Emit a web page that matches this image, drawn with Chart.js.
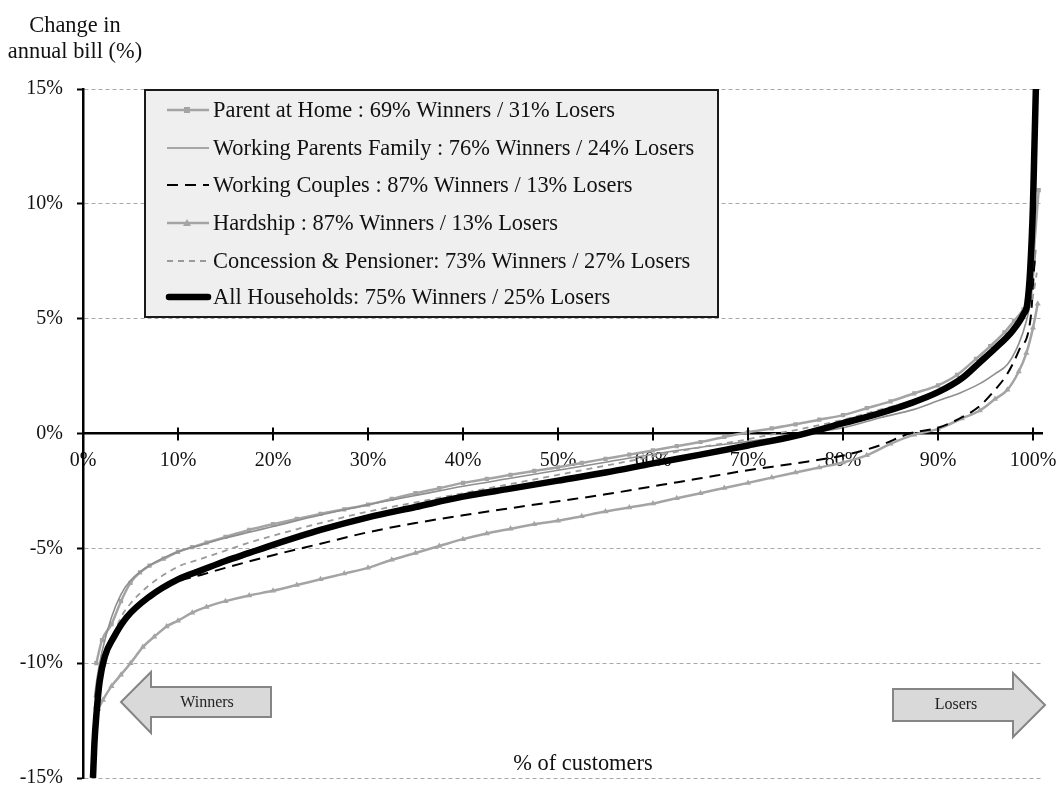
<!DOCTYPE html>
<html>
<head>
<meta charset="utf-8">
<script src="https://cdn.jsdelivr.net/npm/chart.js@4.4.1/dist/chart.umd.min.js"></script>
<style>
  html, body { margin: 0; padding: 0; background: #ffffff; }
  #wrap { width: 1064px; height: 786px; }
</style>
</head>
<body>
<div id="wrap"><canvas id="c" width="1064" height="786"></canvas></div>
<script>
// ---------------- DATA ----------------
const seriesNames = [
  'Parent at Home : 69% Winners / 31% Losers',
  'Working Parents Family : 76% Winners / 24% Losers',
  'Working Couples : 87% Winners / 13% Losers',
  'Hardship : 87% Winners / 13% Losers',
  'Concession & Pensioner: 73% Winners / 27% Losers',
  'All Households: 75% Winners / 25% Losers'
];

const parentX = [1.4, 2, 3, 4, 5, 6, 7, 8.5, 10, 11.5, 13, 15, 17.5, 20, 22.5, 25, 27.5, 30, 32.5, 35, 37.5, 40, 42.5, 45, 47.5, 50, 52.5, 55, 57.5, 60, 62.5, 65, 67.5, 70, 72.5, 75, 77.5, 80, 82.5, 85, 87.5, 90, 92, 94, 95.5, 97, 98, 99, 99.6, 100.6];
const parentY = [-10.0, -9.0, -8.3, -7.3, -6.5, -6.05, -5.75, -5.45, -5.15, -4.95, -4.75, -4.5, -4.2, -3.95, -3.72, -3.5, -3.3, -3.1, -2.85, -2.6, -2.38, -2.15, -1.98, -1.8, -1.63, -1.47, -1.28, -1.1, -0.92, -0.74, -0.55, -0.37, -0.15, 0.05, 0.22, 0.4, 0.6, 0.8, 1.1, 1.4, 1.75, 2.1, 2.55, 3.25, 3.8, 4.4, 4.9, 5.4, 5.9, 10.6];

const workParentsX = [1.2, 1.5, 2, 3, 4, 5, 7, 10, 12.5, 15, 17.5, 20, 25, 30, 35, 40, 45, 50, 55, 60, 65, 70, 76, 80, 84, 87.5, 90, 92.5, 94.4, 96, 97.3, 98.5, 99.3, 99.8, 100.3];
const workParentsY = [-11.5, -10.6, -9.5, -8.0, -7.0, -6.4, -5.75, -5.15, -4.85, -4.55, -4.3, -4.05, -3.55, -3.1, -2.7, -2.3, -1.95, -1.6, -1.25, -0.9, -0.6, -0.35, 0.0, 0.25, 0.7, 1.05, 1.43, 1.8, 2.17, 2.6, 3.0, 3.9, 4.9, 5.9, 8.0];

const couplesX = [1.2, 1.5, 2, 3, 4, 5, 7, 10, 12.5, 15, 20, 25, 30, 35, 40, 45, 50, 55, 60, 65, 70, 75, 80, 84, 87, 90, 92.5, 94.4, 96, 97.3, 98.5, 99.8, 100.1, 100.2];
const couplesY = [-13.5, -11.7, -10.3, -9.1, -8.4, -7.85, -7.1, -6.45, -6.15, -5.85, -5.3, -4.8, -4.3, -3.9, -3.56, -3.25, -2.95, -2.65, -2.3, -1.95, -1.6, -1.3, -0.96, -0.5, 0.0, 0.25, 0.7, 1.2, 1.9, 2.6, 3.6, 5.2, 7.1, 7.6];

const hardshipX = [1.6, 2.1, 3, 4, 5, 6.3, 7.5, 8.8, 10, 11.5, 13, 15, 17.5, 20, 22.5, 25, 27.5, 30, 32.5, 35, 37.5, 40, 42.5, 45, 47.5, 50, 52.5, 55, 57.5, 60, 62.5, 65, 67.5, 70, 72.5, 75, 77.5, 80, 82.5, 85, 87.5, 90, 92.5, 94.4, 96, 97.3, 98.5, 99.3, 100, 100.5];
const hardshipY = [-12.0, -11.6, -11.0, -10.5, -10.0, -9.3, -8.85, -8.4, -8.15, -7.8, -7.55, -7.3, -7.05, -6.85, -6.6, -6.35, -6.1, -5.85, -5.5, -5.2, -4.9, -4.6, -4.35, -4.15, -3.95, -3.8, -3.6, -3.4, -3.22, -3.05, -2.82, -2.6, -2.37, -2.15, -1.92, -1.7, -1.48, -1.26, -0.95, -0.45, -0.05, 0.2, 0.65, 1.0, 1.5, 1.9, 2.7, 3.5, 4.6, 5.65];

const concessionX = [1.2, 2, 3, 4, 5, 7, 10, 12.5, 15, 17.5, 20, 25, 30, 35, 40, 45, 50, 55, 60, 65, 70, 73, 75, 80, 84, 87.5, 90, 92.5, 94.4, 96, 97.5, 98.5, 99.3, 100, 100.4];
const concessionY = [-12.0, -10.0, -9.0, -8.0, -7.4, -6.6, -5.8, -5.45, -5.1, -4.75, -4.45, -3.9, -3.4, -3.0, -2.6, -2.2, -1.8, -1.4, -1.0, -0.6, -0.25, 0.0, 0.15, 0.6, 1.05, 1.45, 1.85, 2.4, 3.0, 3.6, 4.2, 4.7, 5.3, 6.0, 7.0];

const allX = [1.05, 1.2, 1.4, 1.75, 2.3, 3.2, 4.6, 7, 10, 12.5, 15, 17.5, 20, 25, 30, 35, 40, 45, 50, 55, 60, 65, 70, 75, 80, 84, 87, 90, 92.5, 94.4, 96, 97.9, 99, 99.4, 99.7, 100, 100.15, 100.3];
const allY = [-15.0, -13.5, -12.3, -10.8, -9.7, -8.9, -8.0, -7.1, -6.35, -5.95, -5.55, -5.2, -4.85, -4.2, -3.65, -3.2, -2.75, -2.4, -2.05, -1.7, -1.3, -0.92, -0.52, -0.1, 0.45, 0.9, 1.3, 1.8, 2.4, 3.1, 3.7, 4.5, 5.2, 5.65, 7.1, 10.0, 12.5, 15.0];

const xTickValues = [0, 10, 20, 30, 40, 50, 60, 70, 80, 90, 100];
const yTickValues = [-15, -10, -5, 0, 5, 10, 15];
const yTitleLines = ['Change in', 'annual bill (%)'];
const xTitle = '% of customers';
const arrowLabels = ['Winners', 'Losers'];

// ---------------- CHART ----------------
const FONT = "'Liberation Serif','Times New Roman',serif";
const pts = (xs, ys) => xs.map((x, i) => ({ x: x, y: ys[i] }));

const datasets = [
  { label: seriesNames[0], data: pts(parentX, parentY), borderColor: '#a4a4a4', borderWidth: 2.5,
    pointStyle: 'rect', pointRadius: 3, pointBackgroundColor: '#a4a4a4', pointBorderWidth: 0, order: 5 },
  { label: seriesNames[1], data: pts(workParentsX, workParentsY), borderColor: '#8e8e8e', borderWidth: 1.6,
    pointRadius: 0, order: 3 },
  { label: seriesNames[2], data: pts(couplesX, couplesY), borderColor: '#000000', borderWidth: 2,
    borderDash: [11, 7], pointRadius: 0, order: 2 },
  { label: seriesNames[3], data: pts(hardshipX, hardshipY), borderColor: '#a4a4a4', borderWidth: 2.5,
    pointStyle: 'triangle', pointRadius: 3.5, pointBackgroundColor: '#a4a4a4', pointBorderWidth: 0, order: 4 },
  { label: seriesNames[4], data: pts(concessionX, concessionY), borderColor: '#9a9a9a', borderWidth: 1.8,
    borderDash: [6, 5], pointRadius: 0, order: 1 },
  { label: seriesNames[5], data: pts(allX, allY), borderColor: '#000000', borderWidth: 6.5,
    pointRadius: 0, order: 0 }
];
datasets.forEach(d => { d.fill = false; d.cubicInterpolationMode = 'monotone'; d.pointHoverRadius = 0; });

const decorPlugin = {
  id: 'decor',
  afterDatasetsDraw(chart) {
    const ctx = chart.ctx;
    const xs = chart.scales.x, ys = chart.scales.y;
    const y0 = ys.getPixelForValue(0);
    ctx.save();
    // crossing tick marks on the x axis
    ctx.strokeStyle = '#000'; ctx.lineWidth = 2;
    xTickValues.forEach(v => {
      const px = xs.getPixelForValue(v);
      ctx.beginPath(); ctx.moveTo(px, y0 - 6); ctx.lineTo(px, y0 + 7); ctx.stroke();
    });
    // arrows
    const drawArrow = (pts, label, cx, cy) => {
      ctx.beginPath();
      pts.forEach((p, i) => i ? ctx.lineTo(p[0], p[1]) : ctx.moveTo(p[0], p[1]));
      ctx.closePath();
      ctx.fillStyle = '#d9d9d9'; ctx.fill();
      ctx.lineWidth = 2; ctx.strokeStyle = '#858585'; ctx.stroke();
      ctx.fillStyle = '#222'; ctx.font = '16px ' + FONT;
      ctx.textAlign = 'center'; ctx.textBaseline = 'middle';
      ctx.fillText(label, cx, cy);
    };
    drawArrow([[271, 687], [151, 687], [151, 672], [121, 702], [151, 733], [151, 717], [271, 717]], arrowLabels[0], 207, 703);
    drawArrow([[893, 689], [1013, 689], [1013, 673], [1045, 705], [1013, 737], [1013, 721], [893, 721]], arrowLabels[1], 956, 705);

    // legend box
    ctx.fillStyle = '#efefef';
    ctx.fillRect(145, 90, 573, 227);
    ctx.lineWidth = 2; ctx.strokeStyle = '#1a1a1a';
    ctx.strokeRect(145, 90, 573, 227);
    const rows = [110, 148, 185, 223, 261, 297];
    chart.data.datasets.forEach((d, i) => {
      const ry = rows[i];
      ctx.save();
      ctx.strokeStyle = d.borderColor; ctx.lineWidth = d.borderWidth;
      ctx.setLineDash(d.borderDash || []);
      ctx.lineCap = i === 5 ? 'round' : 'butt';
      ctx.beginPath(); ctx.moveTo(i === 5 ? 169 : 167, ry); ctx.lineTo(i === 5 ? 208 : 209, ry); ctx.stroke();
      ctx.restore();
      if (d.pointRadius > 0) {
        ctx.fillStyle = d.pointBackgroundColor;
        if (d.pointStyle === 'rect') {
          ctx.fillRect(184, ry - 3, 6, 6);
        } else {
          ctx.beginPath(); ctx.moveTo(187, ry - 4); ctx.lineTo(191, ry + 3); ctx.lineTo(183, ry + 3); ctx.closePath(); ctx.fill();
        }
      }
      ctx.fillStyle = '#111'; ctx.font = '22.4px ' + FONT;
      ctx.textAlign = 'left'; ctx.textBaseline = 'middle';
      ctx.fillText(d.label, 213, ry + 1);
    });

    // axis titles
    ctx.fillStyle = '#111'; ctx.textAlign = 'center'; ctx.textBaseline = 'alphabetic';
    ctx.font = '22.4px ' + FONT;
    ctx.fillText(yTitleLines[0], 75, 32);
    ctx.fillText(yTitleLines[1], 75, 58);
    ctx.fillText(xTitle, 583, 770);
    ctx.restore();
  }
};

new Chart(document.getElementById('c'), {
  type: 'line',
  data: { datasets: datasets },
  options: {
    responsive: false,
    animation: false,
    events: [],
    layout: { padding: { top: 89, right: 21.5, bottom: 8, left: 0 } },
    plugins: { legend: { display: false }, tooltip: { enabled: false } },
    scales: {
      x: {
        type: 'linear', min: 0, max: 101,
        position: { y: 0 },
        afterFit(s) { s.height = 0; s.paddingLeft = 0; s.paddingRight = 0; s.paddingTop = 0; s.paddingBottom = 0; },
        afterBuildTicks(s) { s.ticks = xTickValues.map(v => ({ value: v })); },
        ticks: { callback: v => v + '%', font: { family: FONT, size: 20 }, color: '#111', padding: 15, maxRotation: 0, autoSkip: false },
        grid: { drawOnChartArea: false, drawTicks: false },
        border: { display: true, color: '#000', width: 2.5 }
      },
      y: {
        type: 'linear', min: -15, max: 15,
        afterFit(s) { s.width = 83; s.paddingTop = 0; s.paddingBottom = 0; },
        afterBuildTicks(s) { s.ticks = yTickValues.map(v => ({ value: v })); },
        ticks: { callback: v => v + '%', font: { family: FONT, size: 20 }, color: '#111', padding: 14 },
        grid: {
          color: ctx => (ctx.tick && ctx.tick.value === 0) ? 'rgba(0,0,0,0)' : '#a8a8a8',
          lineWidth: 1, tickColor: '#000', tickLength: 6, tickWidth: 2
        },
        border: { display: true, color: '#000', width: 2.5, dash: [4, 3] }
      }
    }
  },
  plugins: [decorPlugin]
});
</script>
</body>
</html>
